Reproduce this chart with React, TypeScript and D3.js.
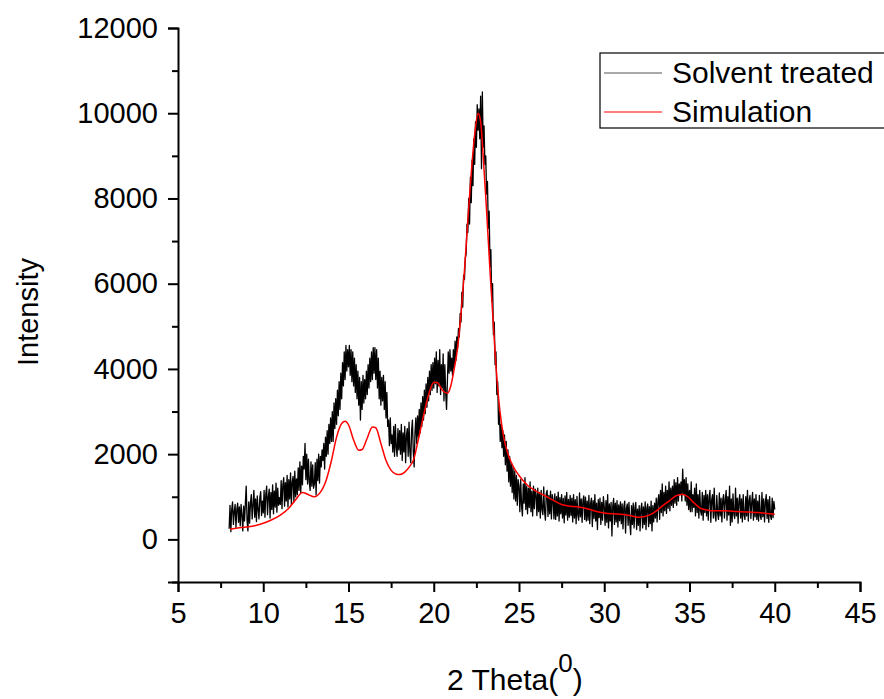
import { useRef, useEffect } from "react";
import * as d3 from "d3";

// Solvent treated XRD scan, 2θ from 8.00 to 40.00 in 0.05° steps (one row per degree)
const solventStart = 8;
const solventStep = 0.05;
const solventIntensity: number[] = [
  // 8
  250, 800, 180, 700, 880, 350, 650, 820, 280, 700, 850, 400, 760, 320, 820, 560, 200, 780, 430, 830,
  // 9
  1250, 450, 200, 880, 380, 860, 1050, 480, 800, 1150, 520, 950, 420, 1020, 700, 480, 980, 1120, 560, 900,
  // 10
  620, 1150, 520, 1060, 1250, 580, 1000, 1180, 500, 1100, 700, 1280, 600, 1130, 760, 1320, 640, 1200, 800, 980,
  // 11
  820, 1380, 720, 1280, 1450, 780, 1330, 900, 1500, 760, 1400, 950, 1560, 820, 1350, 1480, 880, 1600, 1000, 1420,
  // 12
  1050, 1680, 1150, 1820, 1100, 1720, 1280, 1950, 1650, 2250, 1400, 2000, 1300, 1880, 1350, 1150, 1820, 1250, 1750, 1200,
  // 13
  1300, 1800, 1050, 1880, 1380, 2000, 1320, 1950, 1700, 2100, 1850, 2250, 1650, 2400, 1950, 2550, 2000, 2700, 2250, 2850,
  // 14
  2300, 3000, 2300, 3200, 2600, 3300, 2700, 3500, 2900, 3700, 3050, 3900, 3300, 4150, 3600, 4400, 3750, 4550, 3950, 4450,
  // 15
  4050, 4550, 3850, 4450, 3700, 4400, 3600, 4250, 3450, 4100, 3300, 3950, 3150, 3800, 2800, 3700, 3050, 3850, 3200, 3750,
  // 16
  3300, 3950, 3400, 4100, 3550, 4250, 3700, 4400, 3750, 4500, 3900, 4500, 3750, 4450, 3550, 4250, 3300, 3950, 3150, 3800,
  // 17
  3250, 3850, 3050, 3700, 2850, 3450, 2650, 2800, 2200, 2850, 2250, 2450, 2050, 2650, 1950, 2700, 2150, 1950, 2600, 2100,
  // 18
  2550, 2000, 2700, 1850, 2500, 2050, 2650, 1800, 2450, 2600, 1950, 2750, 2050, 1800, 2550, 2800, 2050, 1700, 2500, 2850,
  // 19
  2250, 2900, 2400, 3050, 2500, 3200, 2650, 3350, 2800, 3500, 2950, 3650, 3100, 3800, 3250, 3950, 3400, 4100, 3500, 4150,
  // 20
  3550, 4250, 3650, 4400, 3450, 4200, 3600, 4450, 3400, 4100, 3550, 4350, 3250, 4100, 3450, 3050, 3700, 4400, 3900, 4450,
  // 21
  3950, 4250, 3850, 4450, 4000, 4650, 4200, 4750, 4500, 4950, 4750, 5300, 5100, 5800, 5450, 6200, 6100, 6600, 6700, 7400,
  // 22
  7200, 8000, 7400, 8500, 7900, 8900, 8300, 9400, 8800, 9800, 9200, 10200, 9600, 10100, 9400, 10400, 8700, 10500, 9200, 9700,
  // 23
  8800, 9000, 8100, 8400, 7300, 7700, 6400, 6800, 5600, 6000, 4800, 5100, 4100, 4400, 3400, 3700, 2700, 3000, 2300, 2700,
  // 24
  2150, 2550, 1950, 2450, 1750, 2300, 1600, 2100, 1350, 1950, 1250, 1800, 1100, 1700, 950, 1600, 900, 1500, 800, 1400,
  // 25
  1250, 650, 1400, 800, 550, 1300, 850, 1450, 700, 1250, 600, 1200, 750, 1350, 650, 1130, 550, 1250, 720, 1180,
  // 26
  1050, 560, 1200, 650, 1100, 500, 1150, 700, 580, 1230, 650, 450, 1080, 1150, 540, 1030, 600, 1130, 480, 1050,
  // 27
  930, 480, 1070, 470, 1000, 550, 1110, 430, 980, 600, 1050, 500, 960, 390, 1020, 570, 1100, 450, 940, 520,
  // 28
  1030, 560, 970, 410, 1050, 500, 930, 370, 1010, 570, 450, 1090, 530, 950, 400, 910, 1020, 470, 990, 430,
  // 29
  900, 450, 1030, 370, 840, 970, 300, 910, 490, 1050, 430, 850, 230, 930, 510, 970, 350, 870, 450, 1000,
  // 30
  770, 330, 910, 400, 1050, 270, 830, 430, 870, 80, 790, 960, 350, 850, 410, 910, 290, 810, 440, 880,
  // 31
  370, 830, 250, 770, 900, 150, 730, 830, 330, 870, 400, 110, 790, 350, 850, 270, 750, 870, 230, 710,
  // 32
  330, 790, 200, 710, 850, 270, 760, 350, 880, 230, 740, 830, 300, 770, 370, 900, 200, 790, 410, 850,
  // 33
  500, 970, 410, 910, 1050, 470, 1150, 630, 1300, 550, 1100, 670, 1250, 610, 1150, 730, 1350, 670, 1200, 800,
  // 34
  1250, 750, 1400, 850, 1330, 800, 1450, 900, 1300, 1050, 1350, 900, 1650, 1050, 1400, 900, 1450, 800, 1300, 700,
  // 35
  1150, 650, 1350, 650, 1050, 750, 1200, 550, 1300, 630, 1050, 500, 1150, 670, 570, 1100, 450, 1030, 630, 1150,
  // 36
  550, 1050, 450, 1000, 1150, 400, 930, 1050, 500, 1200, 570, 430, 1030, 610, 470, 1090, 550, 970, 410, 930,
  // 37
  1050, 500, 930, 1150, 450, 1000, 570, 1250, 330, 950, 410, 1070, 600, 490, 1200, 550, 970, 380, 910, 1050,
  // 38
  500, 950, 410, 1050, 570, 470, 1000, 550, 1150, 430, 910, 1030, 490, 870, 1100, 450, 950, 530, 1050, 470,
  // 39
  900, 430, 1030, 550, 470, 1100, 530, 950, 410, 870, 1050, 490, 930, 400, 1000, 550, 470, 970, 510, 890,
  // 40
  700,
];

// Simulated pattern
const simulationTheta = [
  8.05, 8.5, 9, 9.5, 10, 10.5, 11, 11.5, 11.9, 12.3, 12.6, 13.0, 13.3, 13.7, 14.0, 14.3, 14.6, 14.8, 15.0,
  15.3, 15.6, 15.8, 16.1, 16.4, 16.6, 16.9, 17.2, 17.5, 17.8, 18.0, 18.3, 18.6, 18.8, 19.1, 19.4, 19.7,
  20.0, 20.2, 20.5, 20.8, 21.0, 21.2, 21.4, 21.6, 21.8, 22.0, 22.2, 22.4, 22.6, 22.75, 22.9, 23.1, 23.3,
  23.5, 23.7, 23.9, 24.1, 24.4, 24.7, 25.0, 25.5, 26.0, 26.5, 27.0, 27.5, 28.0, 28.5, 29.0, 29.5, 30.0,
  30.5, 31.0, 31.5, 32.0, 32.3, 32.7, 33.0, 33.4, 33.8, 34.2, 34.6, 34.9, 35.2, 35.6, 36.0, 36.5, 37.0,
  37.5, 38.0, 38.5, 39.0, 39.5, 40.0,
];
const simulationIntensity = [
  240, 265, 290, 320, 380, 460, 570, 730, 930, 1100, 1060, 1000, 1080, 1400, 1850, 2400, 2720, 2770, 2690,
  2330, 2090, 2110, 2380, 2640, 2620, 2250, 1850, 1620, 1530, 1520, 1580, 1720, 1850, 2350, 2900, 3400,
  3680, 3680, 3500, 3430, 3600, 4000, 4500, 5300, 6300, 7500, 8600, 9500, 10000, 9800, 9000, 7700, 6300,
  5000, 3800, 2950, 2400, 1950, 1680, 1500, 1270, 1130, 1030, 920, 820, 780, 760, 720, 660, 620,
  600, 590, 560, 520, 530, 580, 650, 780, 900, 1020, 1060, 1000, 880, 740, 690, 670, 670,
  660, 650, 640, 630, 610, 590,
];

const xTicks = [5, 10, 15, 20, 25, 30, 35, 40, 45];
const yTicks = [0, 2000, 4000, 6000, 8000, 10000, 12000];
const legendLabels = ["Solvent treated", "Simulation"];
const seriesColors = ["#000000", "#ff0000"];

const WIDTH = 884;
const HEIGHT = 699;
const FONT = "'Liberation Sans', Arial, sans-serif";

const XrdChart = () => {
  const svgRef = useRef<SVGSVGElement>(null);

  useEffect(() => {
    const svg = d3.select(svgRef.current);
    svg.selectAll("*").remove();

    const x = d3.scaleLinear().domain([5, 45]).range([178, 860]);
    const y = d3.scaleLinear().domain([-1000, 12000]).range([582, 28]);

    const solvent = solventIntensity.map((v, i) => [solventStart + i * solventStep, v] as [number, number]);
    const simulation = simulationTheta.map((t, i) => [t, simulationIntensity[i]] as [number, number]);

    // Data lines
    const rawLine = d3
      .line<[number, number]>()
      .x((d) => x(d[0]))
      .y((d) => y(d[1]));

    svg
      .append("path")
      .datum(solvent)
      .attr("fill", "none")
      .attr("stroke", seriesColors[0])
      .attr("stroke-width", 1.3)
      .attr("stroke-linejoin", "round")
      .attr("d", rawLine);

    const smoothLine = d3
      .line<[number, number]>()
      .x((d) => x(d[0]))
      .y((d) => y(d[1]))
      .curve(d3.curveMonotoneX);

    svg
      .append("path")
      .datum(simulation)
      .attr("fill", "none")
      .attr("stroke", seriesColors[1])
      .attr("stroke-width", 1.5)
      .attr("d", smoothLine);

    // X axis
    const xAxis = svg
      .append("g")
      .attr("transform", `translate(0,${y(-1000)})`)
      .call(d3.axisBottom(x).tickValues(xTicks).tickSize(10).tickPadding(10).tickFormat(d3.format("d")));
    svg
      .append("g")
      .attr("transform", `translate(0,${y(-1000)})`)
      .call(d3.axisBottom(x).tickValues(d3.range(7.5, 45, 5)).tickSize(6).tickFormat(() => ""))
      .select(".domain")
      .remove();

    // Y axis
    const yAxis = svg
      .append("g")
      .attr("transform", `translate(${x(5)},0)`)
      .call(d3.axisLeft(y).tickValues(yTicks).tickSize(10).tickPadding(10).tickFormat(d3.format("d")));
    svg
      .append("g")
      .attr("transform", `translate(${x(5)},0)`)
      .call(d3.axisLeft(y).tickValues(d3.range(-1000, 12000, 2000)).tickSize(6).tickFormat(() => ""))
      .select(".domain")
      .remove();

    svg.selectAll(".domain").attr("stroke", "#000").attr("stroke-width", 2);
    svg.selectAll(".tick line").attr("stroke", "#000").attr("stroke-width", 2);
    [xAxis, yAxis].forEach((ax) =>
      ax.selectAll("text").attr("fill", "#000").style("font-family", FONT).style("font-size", "29px")
    );

    // Axis titles
    svg
      .append("text")
      .attr("transform", `translate(38,312) rotate(-90)`)
      .attr("text-anchor", "middle")
      .style("font-family", FONT)
      .style("font-size", "29px")
      .text("Intensity");

    const xt = svg
      .append("text")
      .attr("x", 447)
      .attr("y", 690)
      .style("font-family", FONT)
      .style("font-size", "30px");
    xt.append("tspan").text("2 Theta(");
    xt.append("tspan").attr("dy", -18).style("font-size", "26px").text("0");
    xt.append("tspan").attr("dy", 18).text(")");

    // Legend
    const legend = svg.append("g");
    legend
      .append("rect")
      .attr("x", 600)
      .attr("y", 53)
      .attr("width", 300)
      .attr("height", 75)
      .attr("fill", "#fff")
      .attr("stroke", "#000")
      .attr("stroke-width", 1.2);
    legendLabels.forEach((label, i) => {
      const ly = 73 + i * 39;
      legend
        .append("line")
        .attr("x1", 604)
        .attr("x2", 662)
        .attr("y1", ly)
        .attr("y2", ly)
        .attr("stroke", i === 0 ? "#555" : seriesColors[i])
        .attr("stroke-width", 1.2);
      legend
        .append("text")
        .attr("x", 672)
        .attr("y", ly + 10)
        .style("font-family", FONT)
        .style("font-size", "30px")
        .text(label);
    });
  }, []);

  return <svg ref={svgRef} width={WIDTH} height={HEIGHT} style={{ display: "block" }}></svg>;
};

export default function App() {
  return (
    <div style={{ position: "absolute", left: 0, top: 0, background: "#fff" }}>
      <XrdChart />
    </div>
  );
}
